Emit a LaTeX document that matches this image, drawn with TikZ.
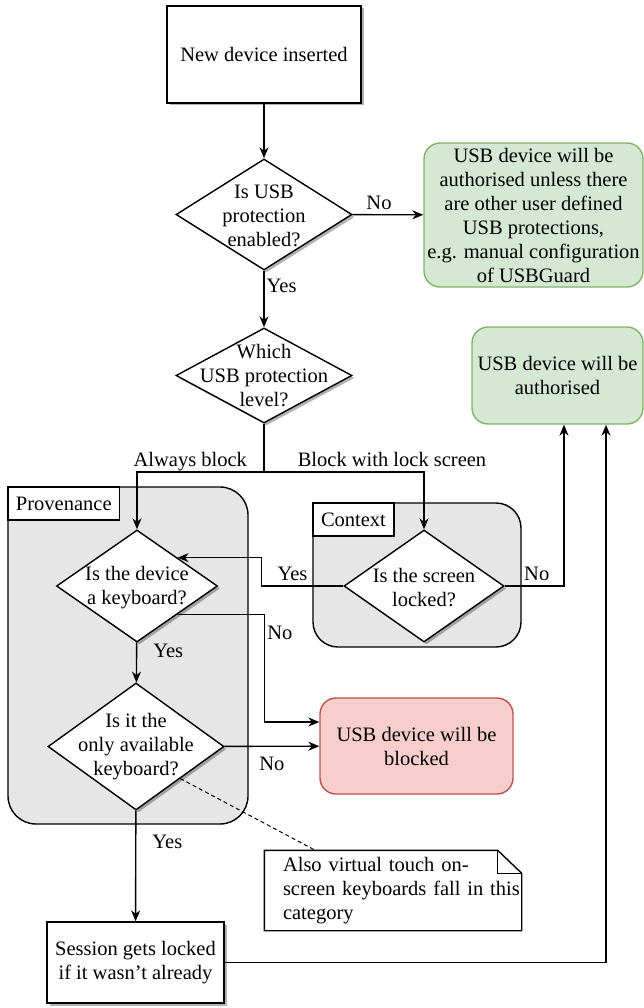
\documentclass[tikz,border=0pt]{standalone}
\usepackage{fontspec}
\setmainfont{Liberation Serif}
\usetikzlibrary{shapes.geometric,arrows.meta,calc,shadows}

\definecolor{okfill}{HTML}{D5E8D4}
\definecolor{okline}{HTML}{82B366}
\definecolor{badfill}{HTML}{F8CECC}
\definecolor{badline}{HTML}{B85450}
\definecolor{groupfill}{HTML}{E6E6E6}

\begin{document}
\begin{tikzpicture}[
    x=1pt, y=-1pt, line width=1.4pt,
    every node/.style={font=\fontsize{20.5}{24}\selectfont},
    shadowed/.style={drop shadow={shadow xshift=2.5pt, shadow yshift=-2.5pt, opacity=0.3, fill=black}},
    stepbox/.style={rectangle, draw, fill=white, shadowed, align=center, inner sep=0pt},
    decision/.style={diamond, draw, fill=white, shadowed, inner sep=0pt},
    qtext/.style={align=center, inner sep=0pt},
    okbox/.style={rectangle, rounded corners=16pt, draw=okline, fill=okfill, align=center, inner sep=0pt},
    badbox/.style={rectangle, rounded corners=16pt, draw=badline, fill=badfill, align=center, inner sep=0pt},
    groupbox/.style={rectangle, rounded corners=28pt, draw, fill=groupfill, inner sep=0pt},
    grouplabel/.style={rectangle, draw, fill=white, inner xsep=8pt, inner ysep=0pt, minimum height=33pt, anchor=north west},
    lbl/.style={inner sep=2pt, text depth=0.25em},
    ptr/.style={-{Stealth[length=11pt, width=9pt]}}
]
    \useasboundingbox (0,0) rectangle (644,1008);

    % Start
    \node[stepbox, minimum width=194pt, minimum height=97pt] (start) at (264,54.5) {New device inserted};

    % Protection on?
    \node[decision, minimum width=176pt, minimum height=111pt] (qon) at (264,214.5) {};
    \node[qtext] (qon-t) at (264,216) {Is USB\\protection\\enabled?};
    \node[okbox, minimum width=219pt, minimum height=144pt] (unless) at (533.5,215) {USB device will be\\authorised unless there\\are other user defined\\USB protections,\\e.g. manual configuration\\of USBGuard};

    % Level
    \node[decision, minimum width=176pt, minimum height=95pt] (qlevel) at (264,375.5) {};
    \node[qtext] (qlevel-t) at (264,376) {Which\\USB protection\\level?};
    \node[okbox, minimum width=171pt, minimum height=97pt] (auth) at (557.5,375.5) {USB device will be\\authorised};

    % Groups
    \node[groupbox, minimum width=240pt, minimum height=337pt] (prov) at (128,655.5) {};
    \node[grouplabel] (prov-l) at (prov.north west) {Provenance};
    \node[groupbox, rounded corners=25pt, minimum width=208pt, minimum height=144pt] (ctx) at (417,575) {};
    \node[grouplabel] (ctx-l) at (ctx.north west) {Context};

    % Checks
    \node[decision, minimum width=161pt, minimum height=112pt] (qkbd) at (137,586) {};
    \node[qtext] (qkbd-t) at (137,587.5) {Is the device\\a keyboard?};
    \node[decision, minimum width=160pt, minimum height=112pt] (qscr) at (424,586) {};
    \node[qtext] (qscr-t) at (424,587.5) {Is the screen\\locked?};
    \node[decision, minimum width=176pt, minimum height=127pt] (qonly) at (136,746.5) {};
    \node[qtext] (qonly-t) at (136,747) {Is it the\\only available\\keyboard?};
    \node[badbox, minimum width=193pt, minimum height=96pt] (blocked) at (416.5,746) {USB device will be\\blocked};

    % Note
    \node[align=left, text width=238pt, inner sep=0pt, minimum height=79pt] (note) at (402,890.5) {Also virtual touch on-\\screen keyboards fall in this\\category};
    \draw ([xshift=-18pt]note.north west) -- ([xshift=-24pt]note.north east) -- ([yshift=-23pt]note.north east) -- (note.south east) -- ([xshift=-18pt]note.south west) -- cycle;
    \draw ([xshift=-24pt]note.north east) -- ++(0,23) -- ([yshift=-23pt]note.north east);

    % End
    \node[stepbox, minimum width=177pt, minimum height=81pt] (sess) at (135.5,962.5) {Session gets locked\\if it wasn't already};

    % Arrows
    \draw[ptr] (start) -- (qon);
    \draw[ptr] (qon) -- node[lbl, pos=0.375, above] {No} (unless);
    \draw[ptr] (qon) -- node[lbl, pos=0.29, right] {Yes} (qlevel);
    \coordinate (split) at (264,472);
    \draw (qlevel.south) -- (split);
    \draw[ptr] (split) -| node[lbl, pos=0.29, above] {Always block} (qkbd.north);
    \draw[ptr] (split) -| node[lbl, pos=0.4, above] {Block with lock screen} (qscr.north);
    \draw[ptr] (qscr.west) -- node[lbl, pos=0.62, above] {Yes} ++(-82,0) |- ($(qkbd.north)!0.5!(qkbd.east)$);
    \draw[ptr] (qscr.east) -| node[lbl, pos=0.27, above] {No} ([xshift=6.5pt]auth.south);
    \draw[ptr] ($(qkbd.east)!0.5!(qkbd.south)$) -- ++(87,0) |- node[lbl, pos=0.09, right] {No} ([yshift=24pt]blocked.west);
    \draw[ptr] (qkbd) -- node[lbl, pos=0.25, right=14pt] {Yes} (qonly);
    \draw[ptr] (qonly) -- node[lbl, pos=0.5, below=8pt] {No} (blocked);
    \draw[ptr] (qonly) -- node[lbl, pos=0.29, right=14pt] {Yes} (sess);
    \draw[ptr] (sess) -| ([xshift=48.5pt]auth.south);
    \draw[dash pattern=on 4pt off 3pt, line width=1pt] ($(qonly.east)!0.5!(qonly.south)$) -- ([xshift=33pt]note.north west);
\end{tikzpicture}
\end{document}
